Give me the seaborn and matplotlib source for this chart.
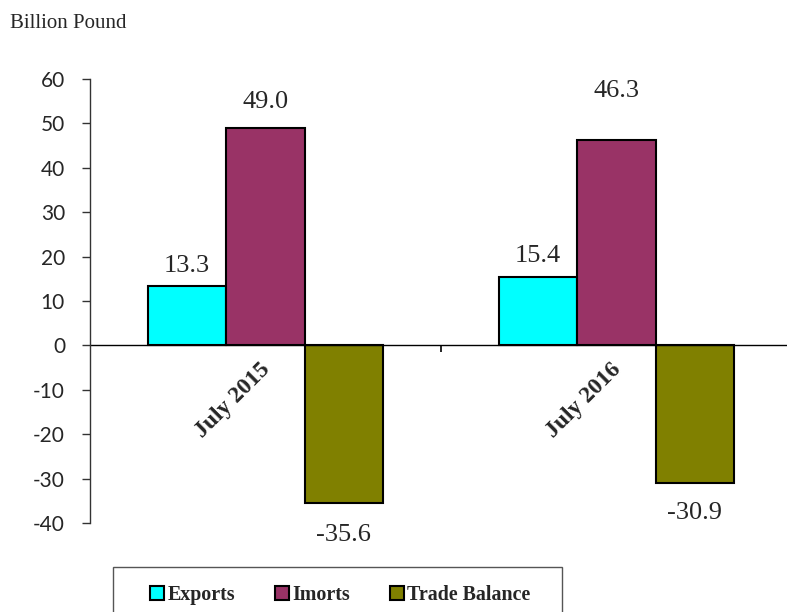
import pandas as pd
import matplotlib.pyplot as plt
import seaborn as sns
from matplotlib.patches import Rectangle

# chart data
periods = ["July 2015", "July 2016"]
series = ["Exports", "Imorts", "Trade Balance"]
exports = [13.3, 15.4]
imports = [49.0, 46.3]
balance = [-35.6, -30.9]
colors = ["#00FFFF", "#993366", "#808000"]

# label offsets (points) per series, per period - labels were placed by hand in the original
label_pad = [[7, 7.5], [11, 27], [15, 14]]

rows = []
for i, p in enumerate(periods):
    rows.append((p, "Exports", exports[i]))
    rows.append((p, "Imorts", imports[i]))
    rows.append((p, "Trade Balance", balance[i]))
df = pd.DataFrame(rows, columns=["period", "series", "value"])

sns.set_style("white")
plt.rcParams["font.family"] = ["Liberation Serif", "DejaVu Serif"]
plt.rcParams["axes.unicode_minus"] = False

W, H = 787, 612
fig = plt.figure(figsize=(W / 100, H / 100), dpi=100)
ax = fig.add_axes([90 / W, 1 - 523 / H, (W - 90) / W, (523 - 79) / H])
ax.set_facecolor("none")

sns.barplot(data=df, x="period", y="value", hue="series", palette=colors,
            saturation=1, edgecolor="black", linewidth=1.5, width=0.67, ax=ax,
            legend=False, errorbar=None)

ax.set_xlim(-0.5, (W - 90) / 351 - 0.5)
ax.set_ylim(-40, 60)
ax.set_yticks(range(-40, 61, 10))
ax.set_xticks([])
ax.set_xlabel("")
ax.set_ylabel("")
for lbl in ax.get_yticklabels():
    lbl.set_fontfamily("Lato")
    lbl.set_fontsize(15)
ax.tick_params(axis="y", direction="out", length=6, width=1, color="#333333", pad=12, left=True)

for s in ["top", "right", "bottom"]:
    ax.spines[s].set_visible(False)
ax.spines["left"].set_color("#333333")
ax.spines["left"].set_linewidth(1)

# zero line and category divider tick
ax.axhline(0, color="black", lw=1, zorder=1)
ax.vlines(0.5, -1.5, 0, color="black", lw=1.2)

# value labels
for cont, pads in zip(ax.containers, label_pad):
    for bar, pad in zip(cont, pads):
        v = bar.get_height()
        x = bar.get_x() + bar.get_width() / 2
        ax.annotate(f"{v:.1f}", xy=(x, v), xytext=(0, pad if v >= 0 else -pad),
                    textcoords="offset points", ha="center",
                    va="bottom" if v >= 0 else "top", fontsize=19)

# rotated category labels
for i, p in enumerate(periods):
    ax.annotate(p, xy=(i, 0), xytext=(6, -10), textcoords="offset points",
                ha="right", va="top", rotation=45, fontsize=17, fontweight="bold")

fig.text(10 / W, 1 - 24 / H, "Billion Pound", fontsize=15, va="center", ha="left")

# legend
fig.patches.append(Rectangle((113 / W, 1 - 640 / H), 449 / W, 73 / H,
                             transform=fig.transFigure, fill=False,
                             edgecolor="#555555", lw=1))
handles = [Rectangle((0, 0), 1, 1, facecolor=c, edgecolor="black", lw=1.5) for c in colors]
fig.legend(handles, series, loc="center", bbox_to_anchor=(340 / W, 1 - 595 / H),
           ncol=3, frameon=False, handlelength=0.7, handleheight=0.7,
           handletextpad=0.15, columnspacing=2.0,
           prop={"family": "Liberation Serif", "weight": "bold", "size": 14.4})

fig.savefig("out.png", dpi=100)
